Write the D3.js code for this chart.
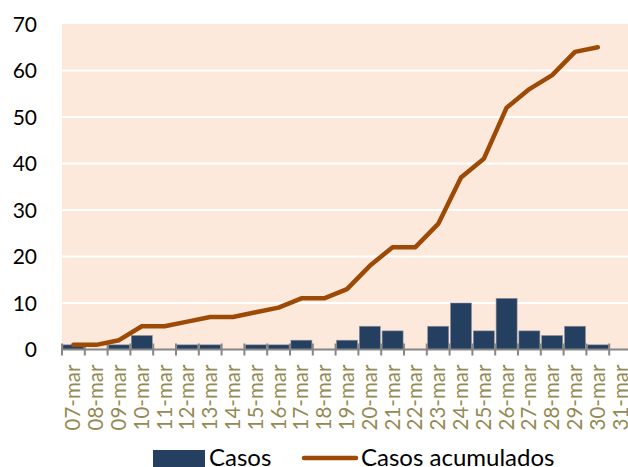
<!DOCTYPE html>
<html>
<head>
<meta charset="utf-8">
<script src="https://cdn.jsdelivr.net/npm/d3@7"></script>
<style>
  body { margin: 0; background: #fff; }
  svg { display: block; font-family: Lato, "Open Sans", sans-serif; }
</style>
</head>
<body>
<div id="chart"></div>
<script>
// dias del mes de marzo
var dias = ["07-mar", "08-mar", "09-mar", "10-mar", "11-mar", "12-mar", "13-mar",
  "14-mar", "15-mar", "16-mar", "17-mar", "18-mar", "19-mar", "20-mar", "21-mar",
  "22-mar", "23-mar", "24-mar", "25-mar", "26-mar", "27-mar", "28-mar", "29-mar",
  "30-mar", "31-mar"];
var casos = [1, 0, 1, 3, 0, 1, 1, 0, 1, 1, 2, 0, 2, 5, 4, 0, 5, 10, 4, 11, 4, 3, 5, 1, null];
var acumulados = [1, 1, 2, 5, 5, 6, 7, 7, 8, 9, 11, 11, 13, 18, 22, 22, 27, 37, 41, 52, 56, 59, 64, 65, null];
var yTicks = [0, 10, 20, 30, 40, 50, 60, 70];

var width = 628, height = 467;
var margin = { top: 24, left: 62, bottom: 117 };
var plotRight = 632;

var svg = d3.select('#chart').append('svg')
  .attr('width', width)
  .attr('height', height);

var x = d3.scaleBand()
  .domain(dias)
  .range([margin.left, plotRight])
  .paddingInner(0.08)
  .paddingOuter(0.04);

var xb = d3.scaleBand().domain(dias).range([margin.left, plotRight]);

var y = d3.scaleLinear()
  .domain([0, 70])
  .range([height - margin.bottom - 0.5, margin.top]);

// fondo
svg.append('rect')
  .attr('x', margin.left)
  .attr('y', y(70))
  .attr('width', plotRight - margin.left)
  .attr('height', y(0) - y(70))
  .attr('fill', '#fce9db');

// lineas de la grilla
svg.append('g')
  .selectAll('line')
  .data(yTicks.filter(function (d) { return d > 0 && d < 70; }))
  .enter().append('line')
  .attr('x1', margin.left)
  .attr('x2', plotRight)
  .attr('y1', function (d) { return y(d); })
  .attr('y2', function (d) { return y(d); })
  .attr('stroke', '#ffffff')
  .attr('stroke-width', 2);

// barras
svg.append('g')
  .selectAll('rect')
  .data(dias.map(function (d, i) { return { dia: d, v: casos[i] }; }).filter(function (d) { return d.v; }))
  .enter().append('rect')
  .attr('x', function (d) { return x(d.dia); })
  .attr('y', function (d) { return y(d.v); })
  .attr('width', x.bandwidth())
  .attr('height', function (d) { return y(0) - y(d.v); })
  .attr('fill', '#243f60')
  .attr('stroke', '#8a8f99')
  .attr('stroke-width', 0.6);

// eje x
var xAxis = svg.append('g')
  .attr('transform', 'translate(0,' + y(0) + ')');
xAxis.append('line')
  .attr('x1', margin.left)
  .attr('x2', plotRight)
  .attr('stroke', '#868686')
  .attr('stroke-width', 2);
xAxis.selectAll('line.tick')
  .data(dias.concat(['fin']))
  .enter().append('line')
  .attr('class', 'tick')
  .attr('x1', function (d, i) { return margin.left + i * xb.step(); })
  .attr('x2', function (d, i) { return margin.left + i * xb.step(); })
  .attr('y1', -6)
  .attr('y2', 6)
  .attr('stroke', '#868686')
  .attr('stroke-width', 2);
xAxis.selectAll('text')
  .data(dias)
  .enter().append('text')
  .attr('transform', function (d) {
    return 'translate(' + (xb(d) + xb.bandwidth() / 2 + 7) + ',15) rotate(-90)';
  })
  .attr('text-anchor', 'end')
  .attr('font-size', 20.5)
  .attr('fill', '#948a54')
  .text(function (d) { return d; });

// eje y
svg.append('g')
  .selectAll('text')
  .data(yTicks)
  .enter().append('text')
  .attr('x', 37)
  .attr('y', function (d) { return y(d) + 7.5; })
  .attr('text-anchor', 'end')
  .attr('font-size', 21)
  .attr('fill', '#000')
  .text(function (d) { return d; });

// linea acumulada
var line = d3.line()
  .defined(function (d) { return d.v != null; })
  .x(function (d) { return xb(d.dia) + xb.bandwidth() / 2; })
  .y(function (d) { return y(d.v); });

svg.append('path')
  .datum(dias.map(function (d, i) { return { dia: d, v: acumulados[i] }; }))
  .attr('d', line)
  .attr('fill', 'none')
  .attr('stroke', '#9c4a06')
  .attr('stroke-width', 4.5)
  .attr('stroke-linecap', 'round')
  .attr('stroke-linejoin', 'round');

// leyenda
var legend = svg.append('g');
legend.append('rect')
  .attr('x', 153).attr('y', 450)
  .attr('width', 52).attr('height', 17)
  .attr('fill', '#243f60');
legend.append('text')
  .attr('x', 209).attr('y', 466)
  .attr('font-size', 24)
  .attr('fill', '#000')
  .text('Casos');
legend.append('line')
  .attr('x1', 304).attr('x2', 356)
  .attr('y1', 458).attr('y2', 458)
  .attr('stroke', '#9c4a06')
  .attr('stroke-width', 4.5)
  .attr('stroke-linecap', 'round');
legend.append('text')
  .attr('x', 361).attr('y', 466)
  .attr('font-size', 24)
  .attr('fill', '#000')
  .text('Casos acumulados');
</script>
</body>
</html>
